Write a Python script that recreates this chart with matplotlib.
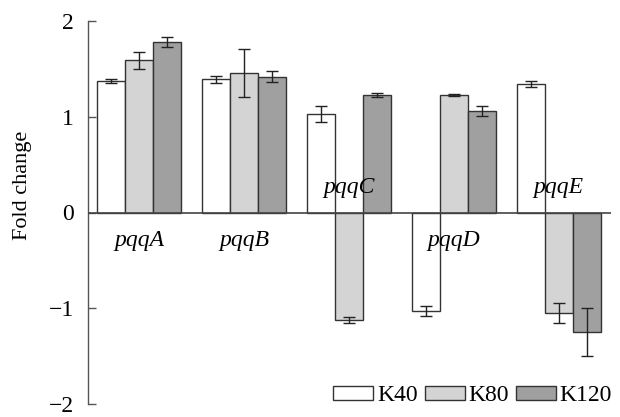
import matplotlib
matplotlib.use("Agg")
import matplotlib.pyplot as plt
import numpy as np
from matplotlib.patches import Patch

genes = ["pqqA", "pqqB", "pqqC", "pqqD", "pqqE"]
series = ["K40", "K80", "K120"]
k40 = [1.37, 1.39, 1.03, -1.03, 1.34]
k80 = [1.59, 1.46, -1.12, 1.23, -1.05]
k120 = [1.78, 1.42, 1.23, 1.06, -1.25]
k40_err = [0.02, 0.04, 0.08, 0.05, 0.03]
k80_err = [0.09, 0.25, 0.03, 0.01, 0.10]
k120_err = [0.05, 0.06, 0.02, 0.05, 0.25]
yticks = [-2, -1, 0, 1, 2]

colors = ["#ffffff", "#d4d4d4", "#a0a0a0"]
edge = "#333333"

plt.rcParams['font.family'] = ['Liberation Serif', 'DejaVu Serif']

fig = plt.figure(figsize=(6.2, 4.17), dpi=100)
ax = fig.add_axes([88/620, 1-404/417, (611-88)/620, (404-21)/417])

x = np.arange(len(genes))
w = 0.8/3
data = [k40, k80, k120]
errs = [k40_err, k80_err, k120_err]
for i in range(3):
    ax.bar(x + (i-1)*w, data[i], w, color=colors[i], edgecolor=edge, linewidth=1.0,
           yerr=errs[i], capsize=4, error_kw=dict(ecolor="#222222", elinewidth=1.0, capthick=1.0),
           zorder=2)

ax.axhline(0, color="#444444", linewidth=1.2, zorder=3)

# gene labels
for i, g in enumerate(genes):
    above = (k80[i] < 0)
    yy = 0.26 if above else -0.29
    ax.text(x[i], yy, g, ha="center", va="center", fontsize=17, style="italic", zorder=4)

ax.set_xlim(-0.49, 4.5)
ax.set_ylim(-2, 2)
ax.set_yticks(yticks)
ax.set_yticklabels(["\u2212%d" % abs(v) if v < 0 else str(v) for v in yticks], fontsize=17)
ax.set_xticks([])
ax.tick_params(axis="y", direction="in", length=6, width=1, color="#555555", pad=10)
for s in ["top", "right", "bottom"]:
    ax.spines[s].set_visible(False)
ax.spines["left"].set_color("#555555")
ax.spines["left"].set_linewidth(1.0)
ax.set_ylabel("Fold change", fontsize=16)
ax.yaxis.set_label_coords(-0.108, 0.57)

handles = [Patch(facecolor=colors[i], edgecolor=edge, linewidth=1.0, label=series[i]) for i in range(3)]
leg = ax.legend(handles=handles, loc="lower right", ncol=3, frameon=False, fontsize=17,
                handlelength=1.7, handleheight=0.55, handletextpad=0.15, columnspacing=0.3,
                borderaxespad=0.0, bbox_to_anchor=(1.02, -0.03))

fig.savefig("out.png", dpi=100)
